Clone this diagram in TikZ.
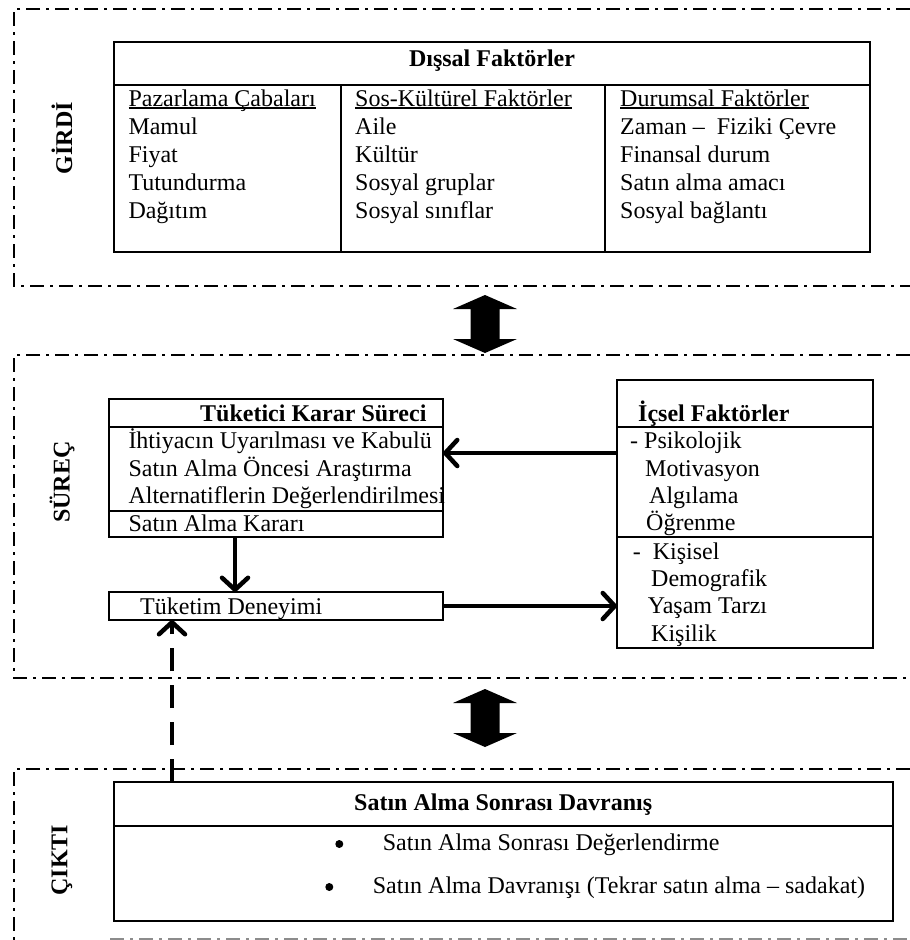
\documentclass[tikz,border=0pt]{standalone}
\usepackage{fontspec}
\setmainfont{Liberation Serif}
\usetikzlibrary{arrows.meta}
% underline drawn just below the baseline, independent of descenders
\newcommand\headline[1]{\setbox0\hbox{#1}\rlap{\rule[-2pt]{\wd0}{1.4pt}}\box0}
\begin{document}
\begin{tikzpicture}[x=1pt,y=-1pt,
  frame/.style={line width=2.6pt, dash pattern=on 14pt off 6pt on 3pt off 6pt},
  box/.style={draw, line width=2.4pt, inner sep=0pt, outer sep=0pt, anchor=north west},
  sep/.style={line width=2pt},
  txt/.style={anchor=base west, inner sep=0pt, font=\fontsize{24}{28}\selectfont},
  ttl/.style={anchor=base west, inner sep=0pt, font=\fontsize{24}{28}\selectfont\bfseries},
  side/.style={rotate=90, inner sep=0pt, font=\fontsize{24}{28}\selectfont\bfseries},
  bullet/.style={circle, fill, inner sep=0pt, minimum size=8pt},
  flow/.style={line width=4pt, -{Straight Barb[length=12pt,width=26pt,line width=4.5pt,round]}},
  dflow/.style={flow, dash pattern=on 23pt off 14pt},
  biarrow/.pic={\fill (0,-29) -- (32,-15) -- (14.5,-15) -- (14.5,15) -- (32,15) -- (0,29)
                 -- (-32,15) -- (-14.5,15) -- (-14.5,-15) -- (-32,-15) -- cycle;}
]
\fill[white] (0,0) rectangle (910,940);
\useasboundingbox (0,0) rectangle (910,940);

% ---------------- section frames ----------------
\draw[frame] (910,9) -- (14,9) -- (14,286) -- (910,286);
\draw[frame] (910,355) -- (14,355) -- (14,678) -- (910,678);
\draw[frame] (910,769) -- (14,769) -- (14,945);
\draw[frame, black!45] (110,939.5) -- (910,939.5);

\node[side] (girdi) at (62,138) {GİRDİ};
\node[side] (surec) at (62,482) {SÜREÇ};
\node[side] (cikti) at (62,860) {ÇIKTI};

% ---------------- input: external factors ----------------
\node[box, minimum width=756pt, minimum height=210pt] (dis) at (114,42) {};
\draw[sep] (114,85) -- (870,85);
\draw[sep] (341,85) -- (341,252);
\draw[sep] (605,85) -- (605,252);
\node[anchor=base, inner sep=0pt, font=\fontsize{24}{28}\selectfont\bfseries] (distitle) at (492,66) {Dışsal Faktörler};

\node[txt] (p0) at (128.3,106.5) {\headline{Pazarlama Çabaları}};
\node[txt] (p1) at (128.3,134.5) {Mamul};
\node[txt] (p2) at (128.3,162.5) {Fiyat};
\node[txt] (p3) at (128.3,190.3) {Tutundurma};
\node[txt] (p4) at (128.3,218) {Dağıtım};

\node[txt] (s0) at (355,106.5) {\headline{Sos-Kültürel Faktörler}};
\node[txt] (s1) at (355,134.5) {Aile};
\node[txt] (s2) at (355,162.5) {Kültür};
\node[txt] (s3) at (355,190.3) {Sosyal gruplar};
\node[txt] (s4) at (355,218) {Sosyal sınıflar};

\node[txt] (d0) at (620,106.5) {\headline{Durumsal Faktörler}};
\node[txt] (d1) at (620,134.5) {Zaman –\hspace{12pt}Fiziki Çevre};
\node[txt] (d2) at (620,162.5) {Finansal durum};
\node[txt] (d3) at (620,190.3) {Satın alma amacı};
\node[txt] (d4) at (620,218) {Sosyal bağlantı};

\pic (arrA) at (485,324) {biarrow};

% ---------------- process ----------------
\node[box, minimum width=334pt, minimum height=138pt] (karar) at (109,399) {};
\draw[sep] (109,427) -- (443,427);
\draw[sep] (109,511) -- (443,511);
\node[ttl] (k0) at (200,421.7) {Tüketici Karar Süreci};
\node[txt] (k1) at (128.3,448.3) {İhtiyacın Uyarılması ve Kabulü};
\node[txt] (k2) at (128.3,476) {Satın Alma Öncesi Araştırma};
\node[txt] (k3) at (128.3,503.3) {Alternatiflerin Değerlendirilmesi};
\node[txt] (k4) at (128.3,531.7) {Satın Alma Kararı};

\node[box, minimum width=334pt, minimum height=28pt] (tuketim) at (109,592) {};
\node[txt] (t1) at (140,614) {Tüketim Deneyimi};

\node[box, minimum width=256pt, minimum height=268pt] (icsel) at (617,380) {};
\draw[sep] (617,427) -- (873,427);
\draw[sep] (617,537) -- (873,537);
\node[ttl] (i0) at (638,421.7) {İçsel Faktörler};
\node[txt] (i1) at (630,448.3) {- Psikolojik};
\node[txt] (i2) at (645,476) {Motivasyon};
\node[txt] (i3) at (649,503.3) {Algılama};
\node[txt] (i4) at (646,530.7) {Öğrenme};
\node[txt] (i5) at (632.7,559.3) {-\hspace{12pt}Kişisel};
\node[txt] (i6) at (651,586.7) {Demografik};
\node[txt] (i7) at (647.7,613.3) {Yaşam Tarzı};
\node[txt] (i8) at (651,641.7) {Kişilik};

\draw[flow] ([yshift=61pt]icsel.west) -- ([yshift=61pt]icsel.west -| karar.east);
\draw[flow] ([xshift=-41pt]karar.south) -- ([xshift=-41pt]karar.south |- tuketim.north);
\draw[flow] (tuketim.east) -- (tuketim.east -| icsel.west);

\pic (arrB) at (485,718) {biarrow};

% ---------------- output ----------------
\node[box, minimum width=779pt, minimum height=139pt] (sonra) at (114,782) {};
\draw[sep] (114,826) -- (893,826);
\node[ttl] (o0) at (354,810) {Satın Alma Sonrası Davranış};
\node[bullet] (b1) at (339.3,844) {};
\node[txt] (o1) at (382.7,850) {Satın Alma Sonrası Değerlendirme};
\node[bullet] (b2) at (329.3,887) {};
\node[txt] (o2) at (372.7,893) {Satın Alma Davranışı (Tekrar satın alma – sadakat)};

\draw[dflow] ([xshift=-331.5pt]sonra.north) -- ([xshift=-331.5pt]sonra.north |- tuketim.south);
\end{tikzpicture}
\end{document}
